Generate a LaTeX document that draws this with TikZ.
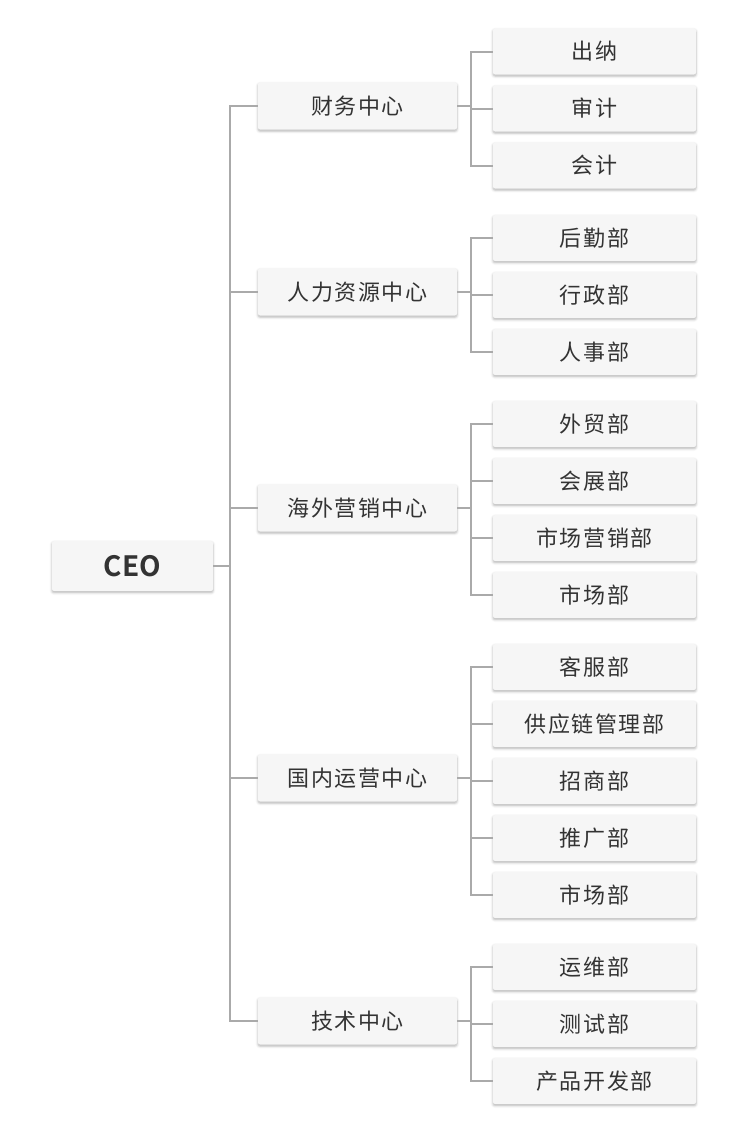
\documentclass[tikz,border=0pt]{standalone}
\usepackage{fontspec}
\usepackage{xcolor}
\usepackage{tikz}
\usetikzlibrary{shadows.blur}
\newfontfamily\cjk{Noto Sans CJK SC}[LetterSpace=7]
\newfontfamily\cjkhead{Noto Sans CJK SC Bold}
\definecolor{boxfill}{RGB}{246,246,246}
\definecolor{txt}{RGB}{51,51,51}
\definecolor{linec}{RGB}{170,170,170}
\begin{document}
\begin{tikzpicture}[
    x=0.5pt, y=-0.5pt,
    box/.style={fill=boxfill, rounded corners=1pt, inner sep=0pt, align=center, text=txt, font=\cjk\fontsize{11}{13}\selectfont,
        blur shadow={shadow xshift=0pt, shadow yshift=-0.8pt, shadow blur radius=1.2pt, shadow opacity=30}},
    top/.style={box, minimum width=80.5pt, minimum height=25pt, font=\cjkhead\fontsize{14}{16}\selectfont},
    ctr/.style={box, minimum width=99.5pt, minimum height=23.5pt},
    dept/.style={box, minimum width=101.5pt, minimum height=23pt},
    conn/.style={draw=linec, line width=1pt}
]
\useasboundingbox (0,0) rectangle (750,1131);
\node[top] (CEO) at (132.5, 566) {CEO};
\node[ctr] (FIN) at (357.5, 106) {财务中心};
\node[ctr] (HRC) at (357.5, 292) {人力资源中心};
\node[ctr] (OVS) at (357.5, 508) {海外营销中心};
\node[ctr] (DOM) at (357.5, 778) {国内运营中心};
\node[ctr] (TEC) at (357.5, 1021) {技术中心};
% finance
\node[dept] (CAS) at (594.5, 51.5) {出纳};
\node[dept] (AUD) at (594.5, 108.5) {审计};
\node[dept] (ACC) at (594.5, 165.5) {会计};
% human resources
\node[dept] (LOG) at (594.5, 238) {后勤部};
\node[dept] (ADM) at (594.5, 295) {行政部};
\node[dept] (PER) at (594.5, 352) {人事部};
% overseas
\node[dept] (TRD) at (594.5, 424) {外贸部};
\node[dept] (EXH) at (594.5, 481) {会展部};
\node[dept] (MKS) at (594.5, 538) {市场营销部};
\node[dept] (MKO) at (594.5, 595) {市场部};
% domestic
\node[dept] (CSV) at (594.5, 667) {客服部};
\node[dept] (SCM) at (594.5, 724) {供应链管理部};
\node[dept] (INV) at (594.5, 781) {招商部};
\node[dept] (PRM) at (594.5, 838) {推广部};
\node[dept] (MKD) at (594.5, 895) {市场部};
% technology
\node[dept] (OPS) at (594.5, 967) {运维部};
\node[dept] (TST) at (594.5, 1024) {测试部};
\node[dept] (PRD) at (594.5, 1081) {产品开发部};
% trunk
\draw[conn] (CEO.east) -- +(17,0) |- (FIN.west);
\draw[conn] (CEO.east) -- +(17,0) |- (HRC.west);
\draw[conn] (CEO.east) -- +(17,0) |- (OVS.west);
\draw[conn] (CEO.east) -- +(17,0) |- (DOM.west);
\draw[conn] (CEO.east) -- +(17,0) |- (TEC.west);
% branches
\draw[conn] (FIN.east) -- +(14,0) |- (CAS.west);
\draw[conn] (FIN.east) -- +(14,0) |- (AUD.west);
\draw[conn] (FIN.east) -- +(14,0) |- (ACC.west);
\draw[conn] (HRC.east) -- +(14,0) |- (LOG.west);
\draw[conn] (HRC.east) -- +(14,0) |- (ADM.west);
\draw[conn] (HRC.east) -- +(14,0) |- (PER.west);
\draw[conn] (OVS.east) -- +(14,0) |- (TRD.west);
\draw[conn] (OVS.east) -- +(14,0) |- (EXH.west);
\draw[conn] (OVS.east) -- +(14,0) |- (MKS.west);
\draw[conn] (OVS.east) -- +(14,0) |- (MKO.west);
\draw[conn] (DOM.east) -- +(14,0) |- (CSV.west);
\draw[conn] (DOM.east) -- +(14,0) |- (SCM.west);
\draw[conn] (DOM.east) -- +(14,0) |- (INV.west);
\draw[conn] (DOM.east) -- +(14,0) |- (PRM.west);
\draw[conn] (DOM.east) -- +(14,0) |- (MKD.west);
\draw[conn] (TEC.east) -- +(14,0) |- (OPS.west);
\draw[conn] (TEC.east) -- +(14,0) |- (TST.west);
\draw[conn] (TEC.east) -- +(14,0) |- (PRD.west);
\end{tikzpicture}
\end{document}
